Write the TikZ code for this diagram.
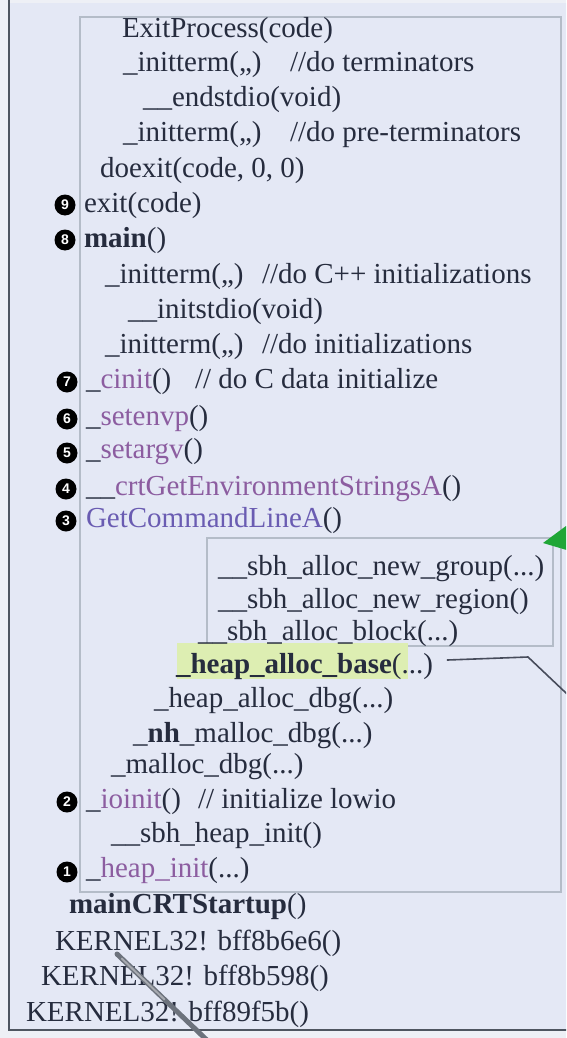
\documentclass[tikz,border=0pt]{standalone}
\usepackage{fontspec}
\usetikzlibrary{calc}
\setmainfont{Liberation Serif}
\setsansfont{Liberation Sans}
\definecolor{paper}{HTML}{E4E8F5}
\definecolor{margin}{HTML}{EEF0F6}
\definecolor{ink}{HTML}{262C3E}
\definecolor{crt}{HTML}{8C5DA0}
\definecolor{winapi}{HTML}{6A5CB2}
\definecolor{framegray}{HTML}{B4BCC8}
\definecolor{outerline}{HTML}{4E5560}
\definecolor{marker}{HTML}{DDEEB2}
\definecolor{arrowgreen}{HTML}{1FA636}
\definecolor{pointer}{HTML}{6C727C}
\newcommand{\codefont}{\fontsize{29}{34}\selectfont}
\newcommand{\fn}[1]{\textcolor{crt}{#1}}
\tikzset{
  code/.style={anchor=base west, inner sep=0pt, outer sep=0pt, text=ink, font=\codefont},
  num/.style={circle, fill=black, text=white, inner sep=0pt, minimum size=21pt,
              font=\sffamily\bfseries\fontsize{14}{14}\selectfont},
  panel/.style={draw=framegray, line width=1.2pt},
}
\begin{document}
\begin{tikzpicture}[x=1pt, y=-1pt]
\useasboundingbox (0,0) rectangle (566,1038);
\clip (0,0) rectangle (566,1038);
% page and frames
\fill[margin] (0,0) rectangle (566,1038);
\fill[paper] (9,3) rectangle (600,1030);
\draw[outerline, line width=2.6pt] (9,-5) rectangle (600,1030);
\draw[panel] (80,17) rectangle (561,892);
\draw[panel] (207,538) rectangle (553,646);
% highlight behind _heap_alloc_base
\fill[marker] (177,643) rectangle (408,679);

% exit path
\node[code] (exitproc) at (122,38) {ExitProcess(code)};
\node[code] (initterma) at (123,72) {\_initterm(,,)};
\node[code] (cmta) at (290,72) {//do terminators};
\node[code] (endstdio) at (143,107) {\_\_endstdio(void)};
\node[code] (inittermb) at (123,142) {\_initterm(,,)};
\node[code] (cmtb) at (290,142) {//do pre-terminators};
\node[code] (doexit) at (100,177) {doexit(code, 0, 0)};
\node[code] (exit) at (84,212) {exit(code)};
\node[code] (main) at (84,247) {\textbf{main}()};

% initialization inside main
\node[code] (inittermc) at (105,283) {\_initterm(,,)};
\node[code] (cmtc) at (262,283) {//do C++ initializations};
\node[code] (initstdio) at (128,318) {\_\_initstdio(void)};
\node[code] (inittermd) at (105,353) {\_initterm(,,)};
\node[code] (cmtd) at (262,353) {//do initializations};
\node[code] (cinit) at (86,388) {\_\fn{cinit}()};
\node[code] (cmte) at (195,388) {// do C data initialize};
\node[code] (setenvp) at (86,425) {\_\fn{setenvp}()};
\node[code] (setargv) at (86,458) {\_\fn{setargv}()};
\node[code] (crtenv) at (86,495) {\_\_\fn{crtGetEnvironmentStringsA}()};
\node[code] (cmdline) at (86,527) {\textcolor{winapi}{GetCommandLineA}()};

% small-block heap allocation
\node[code] (newgroup) at (218,575) {\_\_sbh\_alloc\_new\_group(...)};
\node[code] (newregion) at (218,608) {\_\_sbh\_alloc\_new\_region()};
\node[code] (allocblock) at (198,640) {\_\_sbh\_alloc\_block(...)};
\node[code] (allocbase) at (176,673) {\textbf{\_heap\_alloc\_base}(...)};
\node[code] (allocdbg) at (154,707) {\_heap\_alloc\_dbg(...)};
\node[code] (nhmalloc) at (133,742) {\_\textbf{nh}\_malloc\_dbg(...)};
\node[code] (mallocdbg) at (111,773) {\_malloc\_dbg(...)};
\node[code] (ioinit) at (86,808) {\_\fn{ioinit}()};
\node[code] (cmtf) at (198,808) {// initialize lowio};
\node[code] (sbhinit) at (111,842) {\_\_sbh\_heap\_init()};
\node[code] (heapinit) at (86,877) {\_\fn{heap\_init}(...)};

% startup and kernel frames
\node[code] (crtstart) at (69,913) {\textbf{mainCRTStartup}()};
\node[code] (kernela) at (55,950) {KERNEL32! bff8b6e6()};
\node[code] (kernelb) at (41,985) {KERNEL32! bff8b598()};
\node[code] (kernelc) at (26,1021) {KERNEL32! bff89f5b()};

% step numbers
\node[num] (n9) at (65,205) {9};
\node[num] (n8) at (65,240) {8};
\node[num] (n7) at (67,382) {7};
\node[num] (n6) at (67,419) {6};
\node[num] (n5) at (67,453) {5};
\node[num] (n4) at (66,489) {4};
\node[num] (n3) at (66,521) {3};
\node[num] (n2) at (67,802) {2};
\node[num] (n1) at (67,872) {1};

% callout leaving _heap_alloc_base
\coordinate (bend) at (528,657);
\coordinate (offpage) at (585,711);
\draw[ink!85, line width=1.6pt] ([xshift=14pt,yshift=6pt]allocbase.east) -- (bend) -- (offpage);

% green arrowhead at the corner of the heap box
\coordinate (gtip) at (543,543);
\fill[arrowgreen] (gtip) -- (566,526) -- (570,551) -- cycle;

% presenter pointer
\coordinate (ptip) at (117,954);
\coordinate (ptail) at (212,1045);
\draw[pointer, line width=5pt, line cap=round] (ptip) -- (ptail);
\draw[pointer!60, line width=2pt, line cap=round] ($(ptip)!0.05!(ptail)$) -- ($(ptip)!0.5!(ptail)$);
\end{tikzpicture}
\end{document}
